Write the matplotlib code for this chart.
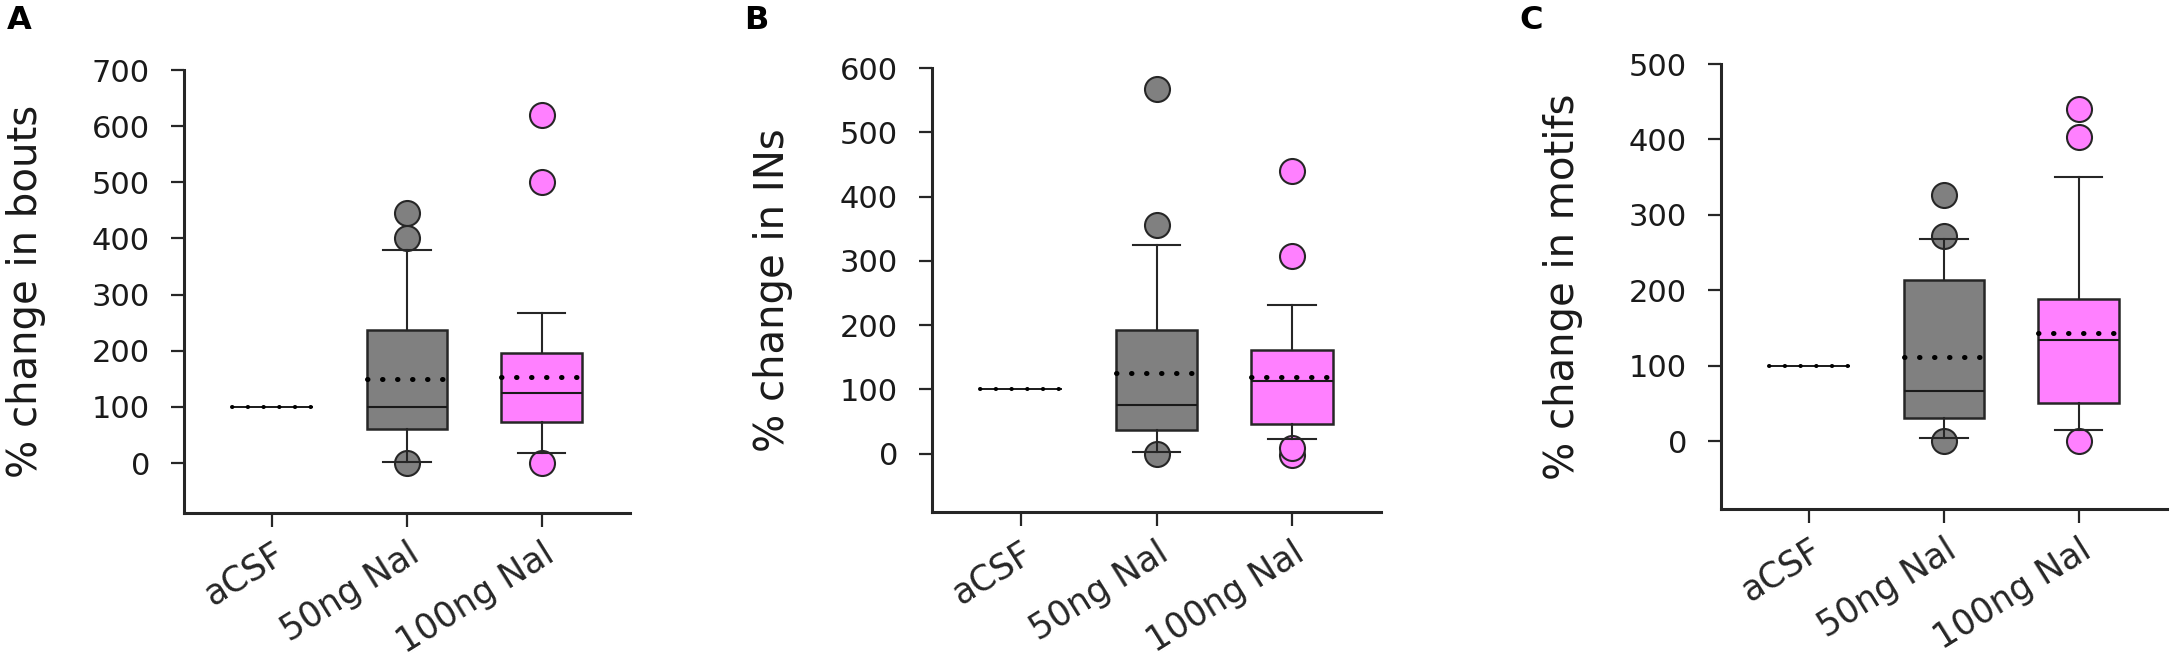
import matplotlib
matplotlib.use("Agg")
import matplotlib.pyplot as plt
import matplotlib.transforms as mtransforms

plt.rcParams['font.family'] = ['DejaVu Sans']

# ---------------- data ----------------
categories = ["aCSF", "50ng Nal", "100ng Nal"]
panel_letters = ["A", "B", "C"]
ylabels = ["% change in bouts", "% change in INs", "% change in motifs"]
ymax = [700, 600, 500]
ymin = [-89, -91, -90]

# per panel, per group: [q1, median, q3, mean, whisker low, whisker high]
bouts_q1 = [100, 60, 73]
bouts_med = [100, 100, 125]
bouts_q3 = [100, 237, 196]
bouts_mean = [100, 150, 153]
bouts_wlo = [100, 2, 18]
bouts_whi = [100, 380, 268]
bouts_fliers = [[], [445, 400, 0], [620, 500, 0]]

ins_q1 = [100, 37, 46]
ins_med = [100, 75, 113]
ins_q3 = [100, 192, 161]
ins_mean = [100, 126, 119]
ins_wlo = [100, 3, 23]
ins_whi = [100, 325, 231]
ins_fliers = [[], [567, 355, 0], [440, 307, -3, 8]]

motifs_q1 = [100, 31, 50]
motifs_med = [100, 67, 134]
motifs_q3 = [100, 213, 188]
motifs_mean = [100, 111, 143]
motifs_wlo = [100, 4, 15]
motifs_whi = [100, 268, 350]
motifs_fliers = [[], [326, 272, 0], [440, 403, 0]]

box_colors = ["white", "#808080", "#ff80ff"]

panels = [
    (bouts_q1, bouts_med, bouts_q3, bouts_mean, bouts_wlo, bouts_whi, bouts_fliers),
    (ins_q1, ins_med, ins_q3, ins_mean, ins_wlo, ins_whi, ins_fliers),
    (motifs_q1, motifs_med, motifs_q3, motifs_mean, motifs_wlo, motifs_whi, motifs_fliers),
]

# ---------------- figure ----------------
W, H = 2173, 656
fig = plt.figure(figsize=(W / 100, H / 100), dpi=100)

axes_rects = [
    [184 / W, 1 - 513 / H, (630 - 184) / W, (513 - 70) / H],
    [932 / W, 1 - 512 / H, (1381 - 932) / W, (512 - 68) / H],
    [1721 / W, 1 - 509 / H, (2167 - 1721) / W, (509 - 64) / H],
]
letter_x = [7, 744, 1519]

line_col = "#262626"

for p, (rect, data) in enumerate(zip(axes_rects, panels)):
    q1, med, q3, mean, wlo, whi, fl = data
    ax = fig.add_axes(rect)
    for i in range(3):
        st = dict(q1=q1[i], med=med[i], q3=q3[i], mean=mean[i],
                  whislo=wlo[i], whishi=whi[i], fliers=fl[i], label=categories[i])
        is_ctrl = (i == 0)
        ax.bxp([st], positions=[i], widths=0.6, capwidths=0.35,
               showmeans=True, meanline=True, patch_artist=True,
               showcaps=not is_ctrl, showbox=True,
               boxprops=dict(facecolor=box_colors[i],
                             edgecolor=line_col if not is_ctrl else "none",
                             linewidth=1.8, zorder=1.5),
               whiskerprops=dict(color=line_col, linewidth=1.5, zorder=2.2),
               capprops=dict(color=line_col, linewidth=1.5, zorder=2.2),
               medianprops=dict(color="#1a1a1a", linewidth=1.5 if not is_ctrl else 1.4,
                                zorder=2.5),
               meanprops=dict(color="black", linestyle=(0, (0.1, 2.9)) if not is_ctrl else (0, (0.1, 3.8)),
                              linewidth=3.6 if not is_ctrl else 2.9,
                              dash_capstyle="round", zorder=2.6),
               flierprops=dict(marker="o", markersize=18, markerfacecolor=box_colors[i],
                               markeredgecolor=line_col, markeredgewidth=1.5,
                               linestyle="none", zorder=2.0))

    ax.set_xlim(-0.655, 2.655)
    ax.set_ylim(ymin[p], ymax[p])
    ax.set_yticks(range(0, ymax[p] + 1, 100))
    ax.set_xticks(range(3))
    ax.set_xticklabels(categories, rotation=32, ha="right", va="top",
                       rotation_mode="anchor", fontsize=25, color="#1a1a1a")
    offset = mtransforms.ScaledTranslation(5 / 100, 0, fig.dpi_scale_trans)
    for lab in ax.get_xticklabels():
        lab.set_transform(lab.get_transform() + offset)
    ax.tick_params(axis="y", labelsize=22, length=9.5, width=1.6, pad=15,
                   colors=line_col, labelcolor="#1a1a1a")
    ax.tick_params(axis="x", length=10, width=1.6, pad=7, colors=line_col)
    for s in ["top", "right"]:
        ax.spines[s].set_visible(False)
    for s in ["left", "bottom"]:
        ax.spines[s].set_linewidth(2.2)
        ax.spines[s].set_color(line_col)
    ax.set_ylabel(ylabels[p], fontsize=29, color="#1a1a1a")
    ax.yaxis.set_label_coords(-0.31, 0.5)
    fig.text(letter_x[p] / W, 1 - 5 / H, panel_letters[p], fontsize=23,
             fontweight="bold", ha="left", va="top", color="black")

fig.savefig("out.png", dpi=100)
